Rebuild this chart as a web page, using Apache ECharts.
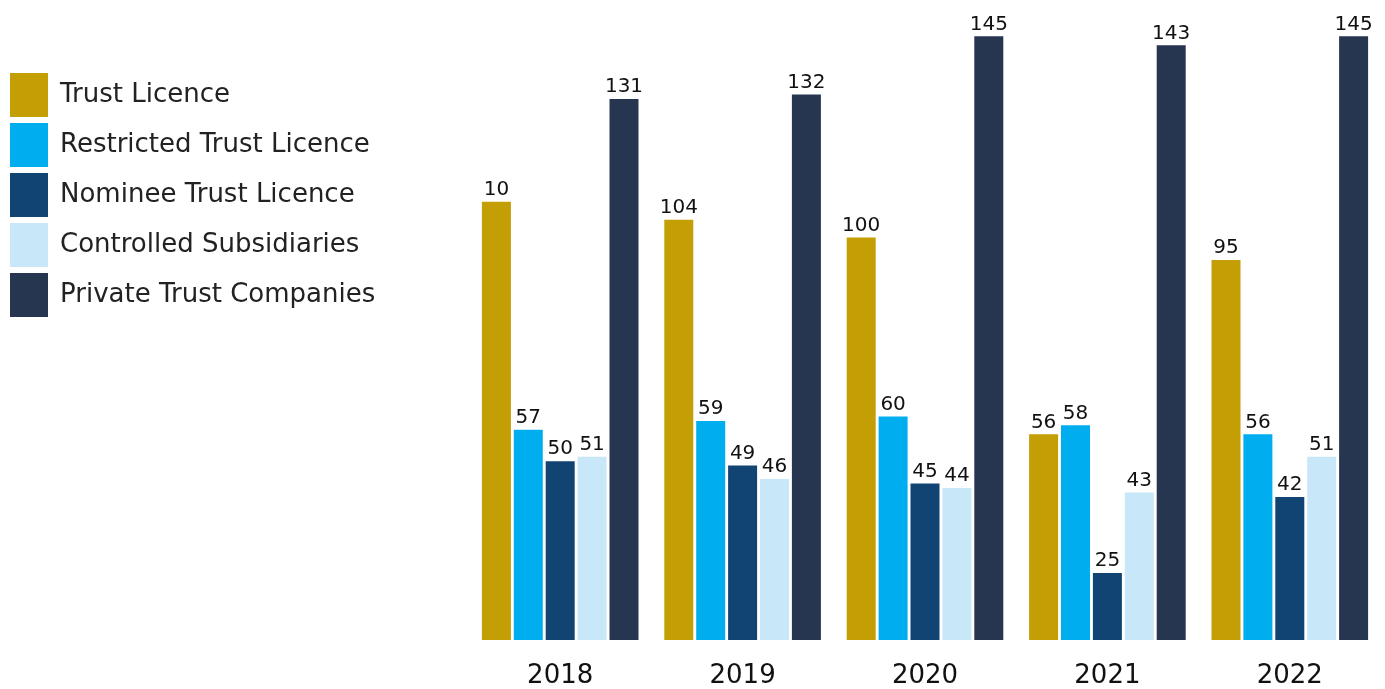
<!DOCTYPE html>
<html>
<head>
<meta charset="utf-8">
<script src="https://cdn.jsdelivr.net/npm/echarts@6/dist/echarts.min.js"></script>
<style>
html,body{margin:0;padding:0;background:#fff;}
#chart{width:1385px;height:689px;}
</style>
</head>
<body>
<div id="chart"></div>
<script>
const years = ['2018', '2019', '2020', '2021', '2022'];
const seriesNames = ['Trust Licence', 'Restricted Trust Licence', 'Nominee Trust Licence', 'Controlled Subsidiaries', 'Private Trust Companies'];
// Trust Licence 2018 is printed "10" in the source; its bar is drawn at ~108
const trustLicence = [108, 104, 100, 56, 95];
const trustLicenceLabels = ['10', '104', '100', '56', '95'];
const restrictedTrustLicence = [57, 59, 60, 58, 56];
const nomineeTrustLicence = [50, 49, 45, 25, 42];
const controlledSubsidiaries = [51, 46, 44, 43, 51];
const privateTrustCompanies = [131, 132, 145, 143, 145];
const colors = ['#C49E05', '#00AEEF', '#114472', '#C8E7F8', '#263550'];

const values = [trustLicence, restrictedTrustLicence, nomineeTrustLicence, controlledSubsidiaries, privateTrustCompanies];
const labelTexts = [trustLicenceLabels, null, null, null, null];

const FONT = '"DejaVu Sans", Verdana, sans-serif';
const chart = echarts.init(document.getElementById('chart'));
chart.setOption({
  animation: false,
  backgroundColor: '#ffffff',
  legend: {
    orient: 'vertical',
    left: 5,
    top: 68,
    itemWidth: 38,
    itemHeight: 44,
    itemGap: 6,
    icon: 'rect',
    data: seriesNames,
    textStyle: { fontFamily: FONT, fontSize: 26, color: '#222', padding: [0, 0, 0, 7] }
  },
  grid: { left: 469, right: 4, top: 14, bottom: 49, containLabel: false },
  xAxis: {
    type: 'category',
    data: years,
    axisLine: { show: false },
    axisTick: { show: false },
    axisLabel: { fontFamily: FONT, fontSize: 26, color: '#111', margin: 23 }
  },
  yAxis: {
    type: 'value',
    min: 10,
    max: 150,
    show: false,
    splitLine: { show: false }
  },
  series: seriesNames.map((name, i) => ({
    name: name,
    type: 'bar',
    data: values[i],
    barWidth: 29,
    barGap: '10%',
    itemStyle: { color: colors[i] },
    label: {
      show: true,
      position: 'top',
      distance: 2,
      fontFamily: FONT,
      fontSize: 20,
      color: '#111',
      formatter: p => labelTexts[i] ? labelTexts[i][p.dataIndex] : String(p.value)
    }
  }))
});
</script>
</body>
</html>
